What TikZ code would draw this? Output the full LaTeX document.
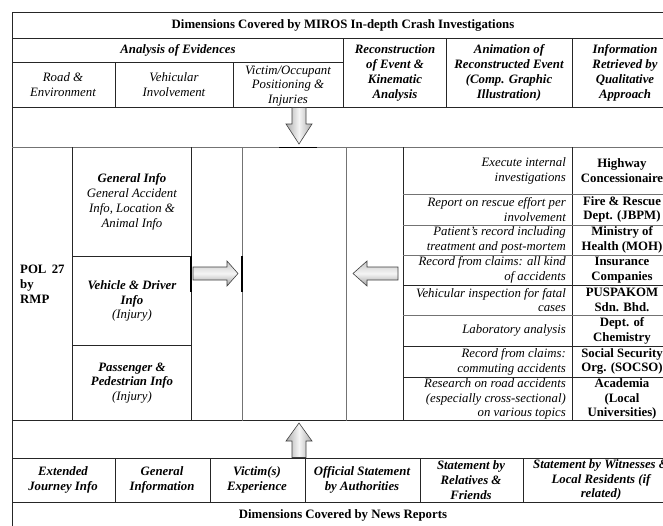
\documentclass[tikz,border=0pt]{standalone}
\usepackage{fontspec}
\setmainfont{Liberation Serif}
\begin{document}
\begin{tikzpicture}[x=1pt,y=-1pt,
  txt/.style={inner sep=0pt, align=center, font=\fontsize{12.8}{14.8}\selectfont},
  bi/.style={txt, font=\fontsize{12.8}{14.8}\selectfont\bfseries\itshape},
  it/.style={txt, font=\fontsize{12.8}{14.8}\selectfont\itshape},
  bf/.style={txt, font=\fontsize{12.8}{14.8}\selectfont\bfseries},
  desc/.style={it, align=right, anchor=east},
  grid/.style={draw=black!85, line width=0.8pt},
  thin/.style={draw=black!55, line width=0.7pt},
  blockarrow/.style={draw=black!75, line width=0.6pt, line join=miter}
]
\useasboundingbox (0,0) rectangle (663,525);
\clip (0,0) rectangle (663,525);
\fill[white] (0,0) rectangle (663,525);

% ---------- outer frame and main horizontal lines ----------
\draw[grid] (12,530) -- (12,12) -- (680,12);
\draw[grid] (12,38) -- (680,38);
\draw[grid] (12,62) -- (343,62);
\draw[grid] (12,107) -- (680,107);
\draw[thin] (12,147) -- (680,147);
\draw[black, line width=1.2pt] (279,147.5) -- (317,147.5);
\draw[grid] (12,420.5) -- (680,420.5);
\draw[grid] (12,458) -- (680,458);
\draw[grid] (12,502.5) -- (680,502.5);

% ---------- header verticals ----------
\draw[grid] (343,38) -- (343,107);
\draw[grid] (446,38) -- (446,107);
\draw[grid] (572,38) -- (572,107);
\draw[grid] (115,62) -- (115,107);
\draw[grid] (233,62) -- (233,107);

% ---------- middle section verticals ----------
\draw[grid] (72,147) -- (72,420.5);
\draw[grid] (191,147) -- (191,420.5);
\draw[thin] (242,147) -- (242,420.5);
\draw[black, line width=1.1pt] (191,256) -- (191,292);
\draw[black, line width=1.1pt] (242,256) -- (242,292);
\draw[thin] (346,147) -- (346,420.5);
\draw[grid] (403,147) -- (403,420.5);
\draw[grid] (572,147) -- (572,420.5);
\draw[grid] (72,256) -- (191,256);
\draw[grid] (72,345) -- (191,345);

% right-hand rows
\draw[thin] (403,194) -- (680,194);
\draw[thin] (403,225) -- (680,225);
\draw[thin] (403,255) -- (680,255);
\draw[grid] (403,285) -- (680,285);
\draw[thin] (403,315) -- (680,315);
\draw[grid] (403,346) -- (680,346);
\draw[grid] (403,377) -- (680,377);

% ---------- bottom row verticals ----------
\draw[grid] (115,458) -- (115,502.5);
\draw[grid] (210,458) -- (210,502.5);
\draw[grid] (305,458) -- (305,502.5);
\draw[grid] (420,458) -- (420,502.5);
\draw[grid] (523,458) -- (523,502.5);

% ---------- block arrows ----------
\shade[blockarrow, left color=gray!65, right color=gray!65, middle color=gray!8]
  (292,107.5) -- (306,107.5) -- (306,124) -- (312,124) -- (299,144) -- (286,124) -- (292,124) -- cycle;
\shade[blockarrow, left color=gray!65, right color=gray!65, middle color=gray!8]
  (292,457.5) -- (306,457.5) -- (306,441) -- (312,441) -- (299,423) -- (286,441) -- (292,441) -- cycle;
\shade[blockarrow, top color=gray!45, bottom color=gray!75, middle color=gray!8]
  (193,267) -- (227,267) -- (227,261) -- (238,273.5) -- (227,286) -- (227,280) -- (193,280) -- cycle;
\shade[blockarrow, top color=gray!45, bottom color=gray!75, middle color=gray!8]
  (398,267) -- (367,267) -- (367,261) -- (353,273.5) -- (367,286) -- (367,280) -- (398,280) -- cycle;

% ---------- header texts ----------
\node[bf] (title) at (343,25) {Dimensions Covered by MIROS In-depth Crash Investigations};
\node[bi] (analysis) at (178,50) {Analysis of Evidences};
\node[it] (road) at (63,85) {Road \&\\Environment};
\node[it] (vehic) at (174,85) {Vehicular\\Involvement};
\node[it] (victim) at (288,86) {Victim/Occupant\\Positioning \&\\Injuries};
\node[bi] (recon) at (395,73) {Reconstruction\\of Event \&\\Kinematic\\Analysis};
\node[bi] (anim) at (509,73) {Animation of\\Reconstructed Event\\(Comp. Graphic\\Illustration)};
\node[bi] (info) at (625,73) {Information\\Retrieved by\\Qualitative\\Approach};

% ---------- middle left ----------
\node[bf, align=left, anchor=west] (pol) at (20,284) {POL\,\ 27\\by\\RMP};
\node[txt] (geninfo) at (132,202) {\textbf{\textit{General Info}}\\\textit{General Accident}\\\textit{Info, Location \&}\\\textit{Animal Info}};
\node[txt] (vehdrv) at (132,301) {\textbf{\textit{Vehicle \& Driver}}\\\textbf{\textit{Info}}\\\textit{(Injury)}};
\node[txt] (passped) at (132,383) {\textbf{\textit{Passenger \&}}\\\textbf{\textit{Pedestrian Info}}\\\textit{(Injury)}};

% ---------- middle right ----------
\node[desc] (d1) at (566,171) {Execute internal\\investigations};
\node[bf] (o1) at (622,171) {Highway\\Concessionaire};
\node[desc] (d2) at (566,209.5) {Report on rescue effort per\\involvement};
\node[bf] (o2) at (622,209.5) {Fire \& Rescue\\Dept. (JBPM)};
\node[desc] (d3) at (566,240) {Patient’s record including\\treatment and post-mortem};
\node[bf] (o3) at (622,240) {Ministry of\\Health (MOH)};
\node[desc] (d4) at (566,270) {Record from claims: all kind\\of accidents};
\node[bf] (o4) at (622,270) {Insurance\\Companies};
\node[desc] (d5) at (566,300) {Vehicular inspection for fatal\\cases};
\node[bf] (o5) at (622,300) {PUSPAKOM\\Sdn. Bhd.};
\node[desc] (d6) at (566,330.5) {Laboratory analysis};
\node[bf] (o6) at (622,330.5) {Dept. of\\Chemistry};
\node[desc] (d7) at (566,361.5) {Record from claims:\\commuting accidents};
\node[bf] (o7) at (622,361.5) {Social Security\\Org. (SOCSO)};
\node[desc] (d8) at (566,399) {Research on road accidents\\(especially cross-sectional)\\on various topics};
\node[bf] (o8) at (622,399) {Academia\\(Local\\Universities)};

% ---------- bottom ----------
\node[bi] (b1) at (63,480) {Extended\\Journey Info};
\node[bi] (b2) at (162,480) {General\\Information};
\node[bi] (b3) at (257,480) {Victim(s)\\Experience};
\node[bi] (b4) at (362,480) {Official Statement\\by Authorities};
\node[bi] (b5) at (471,480) {Statement by\\Relatives \&\\Friends};
\node[bi] (b6) at (601,480) {Statement by Witnesses \&\\Local Residents (if\\related)};
\node[bf] (news) at (343,515) {Dimensions Covered by News Reports};
\end{tikzpicture}
\end{document}
